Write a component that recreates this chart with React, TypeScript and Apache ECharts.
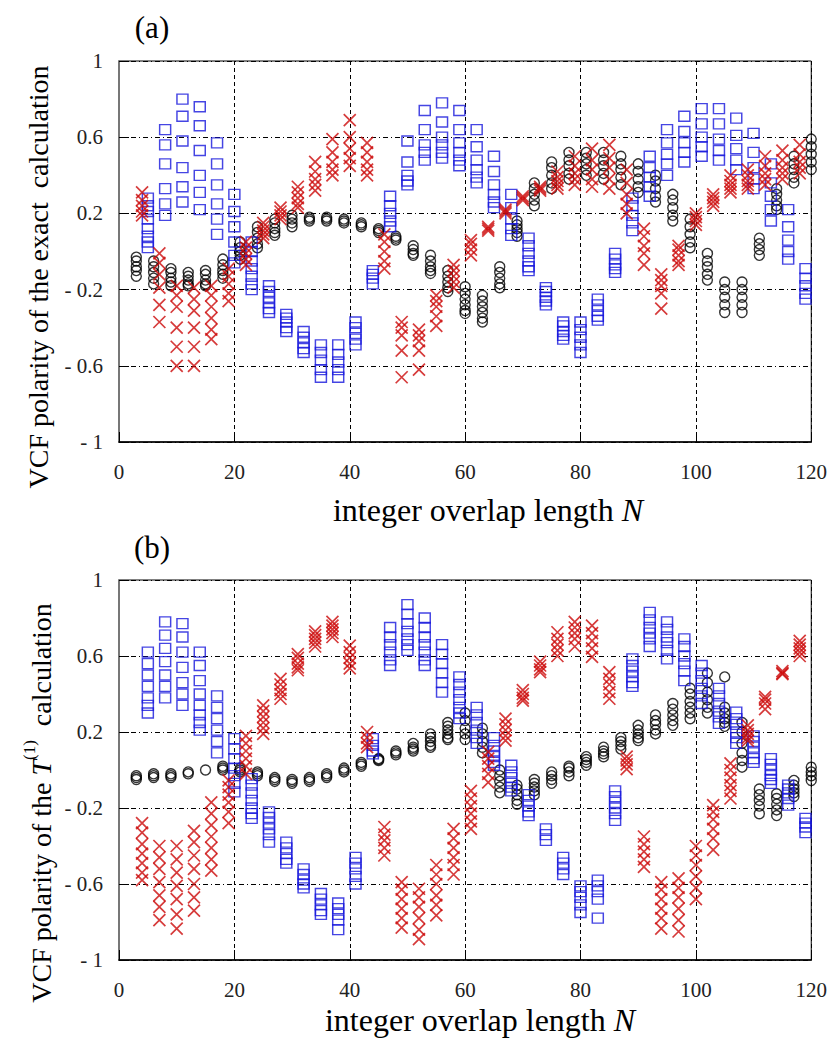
import React, { useEffect, useRef } from "react";
import * as echarts from "echarts";

// N positions of each marker family
const nCircle = [3,6,9,12,15,18,21,24,27,30,33,36,39,42,45,48,51,54,57,60,63,66,69,72,75,78,81,84,87,90,93,96,99,102,105,108,111,114,117,120];
const nCross = [4,7,10,13,16,19,22,25,28,31,34,37,40,43,46,49,52,55,58,61,64,67,70,73,76,79,82,85,88,91,94,97,100,103,106,109,112,115,118];
const nSquare = [5,8,11,14,17,20,23,26,29,32,35,38,41,44,47,50,53,56,59,62,65,68,71,74,77,80,83,86,89,92,95,98,101,104,107,110,113,116,119];

const xTicks = [0, 20, 40, 60, 80, 100, 120];
const yTicks = [-1, -0.6, -0.2, 0.2, 0.6, 1];

// ---- panel (a): exact calculation ----
const circA = [
  [-0.03,-0.05,-0.08,-0.10,-0.13],[-0.05,-0.08,-0.11,-0.14,-0.17],[-0.09,-0.11,-0.14,-0.16,-0.18],[-0.11,-0.13,-0.15,-0.17,-0.18],
  [-0.10,-0.12,-0.15,-0.17,-0.18],[-0.04,-0.07,-0.10,-0.12,-0.14],[0.05,0.02,0.0,-0.02,-0.04],[0.13,0.10,0.07,0.04,0.02],
  [0.17,0.15,0.12,0.10,0.085],[0.19,0.17,0.15,0.13],[0.18,0.17,0.16],[0.18,0.17,0.16],[0.17,0.16,0.15],[0.15,0.14,0.13],
  [0.12,0.11,0.10],[0.08,0.07,0.06],[0.03,0.01,-0.01,-0.02],[-0.02,-0.05,-0.08,-0.10,-0.115],[-0.10,-0.13,-0.16,-0.19,-0.21],
  [-0.185,-0.22,-0.25,-0.28,-0.31,-0.325],[-0.23,-0.26,-0.29,-0.32,-0.35,-0.37],[-0.08,-0.11,-0.14,-0.17,-0.19],
  [0.16,0.14,0.12,0.10,0.08],[0.36,0.33,0.30,0.27,0.24],[0.47,0.44,0.40,0.36,0.33],[0.52,0.48,0.45,0.41,0.38],
  [0.52,0.49,0.46,0.43,0.40],[0.52,0.48,0.45,0.41,0.38],[0.50,0.46,0.43,0.39,0.35],[0.46,0.42,0.38,0.34,0.31],
  [0.40,0.37,0.33,0.29,0.26],[0.30,0.27,0.23,0.19,0.16],[0.17,0.13,0.09,0.05,0.02],[-0.01,-0.05,-0.08,-0.12,-0.15],
  [-0.16,-0.20,-0.24,-0.28,-0.32],[-0.16,-0.20,-0.24,-0.28,-0.32],[0.07,0.04,0.01,-0.02],[0.33,0.30,0.27,0.24,0.22],
  [0.50,0.46,0.43,0.39,0.36],[0.59,0.55,0.51,0.47,0.43],
];
const sqA = [
  [0.28,0.24,0.21,0.17,0.12,0.08,0.05,0.02],[0.64,0.56,0.46,0.33,0.25,0.19],[0.80,0.71,0.58,0.44,0.34,0.26],
  [0.76,0.66,0.53,0.40,0.31,0.22],[0.57,0.46,0.35,0.25,0.17,0.09],[0.30,0.21,0.13,0.05,-0.02,-0.06],
  [0.05,0.0,-0.05,-0.09,-0.13,-0.17,-0.20],[-0.18,-0.21,-0.24,-0.27,-0.30,-0.32],[-0.33,-0.35,-0.37,-0.40,-0.42],
  [-0.42,-0.45,-0.48,-0.51,-0.53],[-0.49,-0.53,-0.57,-0.62,-0.66],[-0.49,-0.54,-0.58,-0.62,-0.66],[-0.37,-0.40,-0.43,-0.46,-0.49],
  [-0.10,-0.12,-0.14,-0.17],[0.29,0.24,0.20,0.16,0.13],[0.58,0.47,0.40,0.37,0.35],[0.74,0.64,0.56,0.52,0.48],
  [0.78,0.68,0.60,0.56,0.52,0.49],[0.74,0.64,0.57,0.52,0.48,0.45],[0.64,0.55,0.48,0.43,0.39,0.36],[0.50,0.42,0.35,0.30,0.26,0.23],
  [0.30,0.23,0.17,0.12,0.085],[0.07,0.03,-0.01,-0.05,-0.08,-0.10],[-0.19,-0.21,-0.24,-0.26,-0.28],[-0.37,-0.39,-0.42,-0.44,-0.46],
  [-0.37,-0.41,-0.45,-0.49,-0.53],[-0.25,-0.28,-0.31,-0.34,-0.36],[-0.01,-0.04,-0.07,-0.09,-0.11],[0.28,0.24,0.19,0.15,0.11],
  [0.50,0.44,0.39,0.34,0.29],[0.64,0.57,0.51,0.46,0.40],[0.71,0.63,0.57,0.52,0.47],[0.75,0.67,0.60,0.55,0.50],
  [0.75,0.67,0.59,0.53,0.48],[0.70,0.61,0.54,0.48,0.43],[0.62,0.52,0.44,0.38,0.33],[0.46,0.36,0.29,0.22,0.16],
  [0.22,0.13,0.06,0.0,-0.04],[-0.09,-0.14,-0.18,-0.22,-0.25],
];
const crossA = [
  [0.31,0.27,0.24,0.21,0.19],[-0.01,-0.06,-0.12,-0.19,-0.28,-0.37],[-0.18,-0.23,-0.29,-0.40,-0.50,-0.60],
  [-0.19,-0.25,-0.31,-0.40,-0.50,-0.60],[-0.18,-0.23,-0.29,-0.35,-0.41,-0.46],[-0.09,-0.13,-0.17,-0.22,-0.26],
  [0.05,0.02,-0.01,-0.04,-0.07],[0.15,0.13,0.11,0.09,0.07],[0.23,0.21,0.19,0.17],[0.34,0.31,0.28,0.25,0.23],
  [0.47,0.42,0.38,0.35,0.32],[0.59,0.52,0.47,0.43,0.40],[0.69,0.60,0.54,0.49,0.45],[0.57,0.52,0.47,0.43,0.40],
  [0.09,0.05,0.0,-0.05,-0.09],[-0.37,-0.40,-0.44,-0.52,-0.66],[-0.41,-0.44,-0.47,-0.52,-0.62],[-0.23,-0.26,-0.29,-0.34,-0.39],
  [-0.07,-0.10,-0.13,-0.16,-0.19],[0.06,0.04,0.01,-0.02],[0.13,0.12,0.11],[0.22,0.21,0.20],[0.29,0.28,0.27],[0.34,0.33,0.32],
  [0.42,0.39,0.37,0.35,0.33],[0.50,0.45,0.41,0.38,0.35],[0.54,0.48,0.43,0.38,0.34],[0.56,0.49,0.44,0.38,0.33],
  [0.43,0.36,0.30,0.25,0.20],[0.12,0.08,0.03,-0.01,-0.07],[-0.12,-0.15,-0.18,-0.22,-0.30],[0.03,0.01,-0.02,-0.05,-0.07],
  [0.20,0.18,0.16,0.14],[0.30,0.28,0.26,0.24],[0.40,0.37,0.35,0.33,0.31],[0.43,0.40,0.37,0.35,0.33],
  [0.50,0.45,0.41,0.38,0.35],[0.53,0.48,0.44,0.41,0.38],[0.56,0.51,0.47,0.44,0.41],
];

// ---- panel (b): T(1) calculation ----
const circB = [
  [-0.03,-0.04,-0.05],[-0.02,-0.03,-0.04],[-0.02,-0.03,-0.04],[-0.01,-0.02],[0.0],[0.02,0.01,0.0],[0.01,0.0,-0.01],
  [-0.01,-0.02,-0.03],[-0.04,-0.05,-0.06],[-0.05,-0.06,-0.07],[-0.04,-0.05,-0.06],[-0.02,-0.03,-0.04],[0.01,0.0,-0.01],
  [0.04,0.03,0.02],[0.06,0.055,0.05],[0.10,0.09,0.08],[0.14,0.12,0.11,0.10],[0.19,0.17,0.15,0.13,0.12],
  [0.25,0.23,0.21,0.19,0.17,0.16],[0.30,0.26,0.22,0.19,0.16],[0.22,0.19,0.15,0.12,0.09],[0.0,-0.03,-0.06,-0.09,-0.12],
  [-0.08,-0.10,-0.13,-0.16,-0.18],[-0.05,-0.07,-0.09,-0.11,-0.13],[-0.01,-0.03,-0.05,-0.07],[0.02,0.01,-0.01,-0.03],
  [0.07,0.055,0.04,0.025],[0.12,0.10,0.085,0.07],[0.17,0.15,0.13,0.11],[0.235,0.21,0.19,0.17,0.155],
  [0.29,0.26,0.24,0.21,0.19],[0.35,0.32,0.29,0.26,0.235],[0.43,0.40,0.36,0.33,0.30,0.27],[0.51,0.46,0.41,0.37,0.33,0.30],
  [0.49,0.33,0.30,0.27,0.25,0.23],[0.25,0.20,0.14,0.09,0.05,0.015],[-0.10,-0.13,-0.16,-0.19,-0.23],
  [-0.125,-0.15,-0.18,-0.21,-0.24],[-0.055,-0.08,-0.10,-0.12,-0.14],[0.015,-0.01,-0.03,-0.055],
];
const sqB = [
  [0.62,0.56,0.50,0.44,0.38,0.34,0.30],[0.78,0.71,0.64,0.57,0.50,0.44,0.38],[0.77,0.70,0.62,0.54,0.46,0.40,0.34],
  [0.62,0.55,0.47,0.40,0.34,0.29,0.25,0.21],[0.39,0.33,0.27,0.21,0.15,0.09],[0.165,0.11,0.06,0.01,-0.03,-0.07,-0.115],
  [-0.045,-0.08,-0.12,-0.16,-0.20,-0.23,-0.255],[-0.22,-0.25,-0.28,-0.31,-0.34,-0.38],[-0.38,-0.41,-0.44,-0.47,-0.49],
  [-0.52,-0.55,-0.58,-0.60,-0.62],[-0.65,-0.68,-0.71,-0.74,-0.76],[-0.70,-0.73,-0.76,-0.79,-0.84],[-0.46,-0.49,-0.52,-0.56,-0.60],
  [0.165,0.13,0.10,0.085],[0.75,0.70,0.66,0.62,0.58,0.55],[0.87,0.82,0.77,0.73,0.69,0.66,0.63],[0.80,0.75,0.70,0.66,0.62,0.58,0.55],
  [0.66,0.61,0.56,0.51,0.46,0.41],[0.49,0.45,0.41,0.37,0.33,0.30,0.27],[0.33,0.29,0.25,0.21,0.17,0.14],
  [0.17,0.13,0.10,0.07,0.04,0.025],[0.025,-0.01,-0.04,-0.07,-0.09,-0.11],[-0.13,-0.16,-0.19,-0.22,-0.24],[-0.31,-0.34,-0.37],
  [-0.46,-0.49,-0.52,-0.55],[-0.61,-0.64,-0.67,-0.71,-0.75],[-0.58,-0.61,-0.64,-0.68,-0.78],[-0.11,-0.14,-0.17,-0.20,-0.23,-0.265],
  [0.585,0.55,0.52,0.49,0.46,0.44],[0.83,0.79,0.75,0.72,0.69,0.65],[0.78,0.74,0.70,0.67,0.63,0.585],[0.69,0.65,0.60,0.56,0.52,0.47],
  [0.55,0.51,0.47,0.43,0.39,0.35],[0.43,0.39,0.35,0.31,0.28,0.245],[0.305,0.27,0.24,0.20,0.17,0.14],[0.18,0.15,0.12,0.09,0.06,0.04],
  [0.06,0.03,0.0,-0.03,-0.05,-0.07],[-0.08,-0.10,-0.12,-0.15,-0.185],[-0.255,-0.28,-0.30,-0.33],
];
const crossB = [
  [-0.28,-0.33,-0.39,-0.44,-0.49,-0.54,-0.58],[-0.40,-0.46,-0.52,-0.59,-0.66,-0.72,-0.79],[-0.40,-0.47,-0.54,-0.61,-0.68,-0.76,-0.835],
  [-0.32,-0.38,-0.45,-0.52,-0.60,-0.67,-0.74],[-0.17,-0.23,-0.29,-0.35,-0.41,-0.47,-0.53],[-0.055,-0.09,-0.13,-0.17,-0.22,-0.28],
  [0.18,0.14,0.10,0.06,0.02,-0.02],[0.34,0.31,0.28,0.25,0.22,0.19],[0.48,0.45,0.42,0.40,0.375],[0.61,0.59,0.56,0.54,0.525],
  [0.73,0.71,0.69,0.67,0.65],[0.78,0.76,0.74,0.72,0.70],[0.655,0.62,0.59,0.56,0.535],[0.20,0.17,0.14,0.12],
  [-0.30,-0.34,-0.37,-0.41,-0.45],[-0.59,-0.63,-0.68,-0.73,-0.78,-0.83],[-0.625,-0.67,-0.72,-0.78,-0.84,-0.89],
  [-0.50,-0.55,-0.60,-0.66,-0.71,-0.765],[-0.31,-0.36,-0.41,-0.46,-0.50,-0.55],[-0.11,-0.15,-0.19,-0.23,-0.27,-0.31],
  [0.095,0.06,0.02,-0.02,-0.065],[0.27,0.24,0.21,0.18,0.155],[0.42,0.40,0.38,0.365],[0.57,0.55,0.53,0.515],
  [0.725,0.69,0.66,0.63,0.60],[0.78,0.75,0.72,0.69,0.65],[0.76,0.72,0.68,0.64,0.595],[0.515,0.48,0.45,0.41,0.375],
  [0.07,0.05,0.03,0.005],[-0.35,-0.39,-0.43,-0.47,-0.51],[-0.59,-0.63,-0.68,-0.73,-0.78,-0.835],[-0.57,-0.62,-0.67,-0.73,-0.79,-0.85],
  [-0.40,-0.45,-0.50,-0.56,-0.62,-0.68],[-0.185,-0.22,-0.26,-0.31,-0.36,-0.42],[0.035,0.0,-0.04,-0.08,-0.11,-0.15],
  [0.235,0.21,0.19,0.17,0.155],[0.385,0.37,0.35,0.32],[0.52,0.51,0.505],[0.68,0.66,0.64,0.62,0.60],
];

const SERIF = "Liberation Serif, DejaVu Serif, serif";
const BLUE = "#1616dc";
const RED = "#cc0a0a";

function toPoints(ns: number[], cols: number[][]) {
  const out: number[][] = [];
  ns.forEach((n, i) => (cols[i] || []).forEach((v) => out.push([n, v])));
  return out;
}

function fmtY(v: number) {
  const r = Math.round(v * 10) / 10;
  const s = r < 0 ? "- " + String(Math.abs(r)) : String(r);
  return "{s|" + s + "}";
}
function fmtX(v: number) {
  return "{s|" + String(Math.round(v)) + "}";
}

const labelRich = { s: { fontFamily: SERIF, fontSize: 21, color: "#222" } };

function axesFor(idx: number) {
  const x = {
    type: "value", gridIndex: idx, min: 0, max: 120, interval: 20,
    axisLine: { show: true, onZero: false, lineStyle: { color: "#000", width: 1.5 } },
    axisTick: { show: true, inside: true, length: 10, lineStyle: { color: "#000" } },
    axisLabel: { margin: 19, fontSize: 21, fontFamily: SERIF, color: "#222", customValues: xTicks, formatter: fmtX, rich: labelRich },
    splitLine: { show: true, lineStyle: { type: [4, 3], color: "#000", width: 1 } },
  };
  const y = {
    type: "value", gridIndex: idx, min: -1, max: 1, interval: 0.4,
    axisLine: { show: true, onZero: false, lineStyle: { color: "#777", width: 2 } },
    axisTick: { show: true, inside: true, length: 10, lineStyle: { color: "#000" }, customValues: yTicks },
    axisLabel: { margin: 16, fontSize: 21, fontFamily: SERIF, color: "#222", customValues: yTicks, formatter: fmtY, rich: labelRich },
    splitLine: { show: true, lineStyle: { type: [5, 3, 1, 3], color: "#000", width: 1 } },
  };
  return { x, y };
}

function seriesFor(idx: number, circ: number[][], sq: number[][], cross: number[][]) {
  return [
    {
      type: "scatter", xAxisIndex: idx, yAxisIndex: idx, silent: true,
      symbol: "circle", symbolSize: 10,
      itemStyle: { color: "rgba(0,0,0,0)", borderColor: "#000", borderWidth: 1.4 },
      data: toPoints(nCircle, circ),
    },
    {
      type: "scatter", xAxisIndex: idx, yAxisIndex: idx, silent: true,
      symbol: "rect", symbolSize: [11, 10],
      itemStyle: { color: "rgba(0,0,0,0)", borderColor: BLUE, borderWidth: 1.4 },
      data: toPoints(nSquare, sq),
    },
    {
      type: "scatter", xAxisIndex: idx, yAxisIndex: idx, silent: true,
      symbol: "path://M0,0L10,10M10,0L0,10", symbolSize: 12,
      itemStyle: { color: "rgba(0,0,0,0)", borderColor: RED, borderWidth: 1.7 },
      data: toPoints(nCross, cross),
    },
  ];
}

export default function App() {
  const ref = useRef<HTMLDivElement>(null);
  useEffect(() => {
    document.body.style.margin = "0";
    if (!ref.current) return;
    const chart = echarts.init(ref.current, undefined, { renderer: "svg" });
    const a = axesFor(0);
    const b = axesFor(1);
    const xTitleRich = {
      n: { fontFamily: SERIF, fontSize: 32, color: "#000" },
      i: { fontFamily: SERIF, fontSize: 32, color: "#000", fontStyle: "italic" },
    };
    const yRich = {
      n: { fontFamily: SERIF, fontSize: 28, color: "#000", verticalAlign: "bottom", lineHeight: 34 },
      i: { fontFamily: SERIF, fontSize: 28, color: "#000", fontStyle: "italic", verticalAlign: "bottom", lineHeight: 34 },
      s: { fontFamily: SERIF, fontSize: 17, color: "#000", verticalAlign: "top", lineHeight: 34 },
    };
    chart.setOption({
      animation: false,
      backgroundColor: "#fff",
      grid: [
        { left: 119, top: 61, width: 694, height: 381, show: true, borderColor: "#000", borderWidth: 1, backgroundColor: "transparent" },
        { left: 119, top: 580, width: 694, height: 380, show: true, borderColor: "#000", borderWidth: 1, backgroundColor: "transparent" },
      ],
      xAxis: [a.x, b.x],
      yAxis: [a.y, b.y],
      series: [...seriesFor(0, circA, sqA, crossA), ...seriesFor(1, circB, sqB, crossB)],
      graphic: [
        { type: "text", x: 152, y: 27, style: { text: "{n|(a)}", rich: { n: { fontFamily: SERIF, fontSize: 31, color: "#000" } }, textAlign: "center", textVerticalAlign: "middle" } },
        { type: "text", x: 152, y: 547, style: { text: "{n|(b)}", rich: { n: { fontFamily: SERIF, fontSize: 31, color: "#000" } }, textAlign: "center", textVerticalAlign: "middle" } },
        {
          type: "text", x: 35, y: 277, rotation: Math.PI / 2,
          style: { text: "{n|VCF polarity of the exact  calculation}", rich: yRich, textAlign: "center", textVerticalAlign: "middle" },
        },
        {
          type: "text", x: 38, y: 803, rotation: Math.PI / 2,
          style: { text: "{n|VCF polarity of the }{i|T}{s|(1)}{n|  calculation}", rich: yRich, textAlign: "center", textVerticalAlign: "middle" },
        },
        {
          type: "text", x: 488, y: 510,
          style: { text: "{n|integer overlap length }{i|N}", textAlign: "center", textVerticalAlign: "middle", rich: xTitleRich },
        },
        {
          type: "text", x: 480, y: 1020,
          style: { text: "{n|integer overlap length }{i|N}", textAlign: "center", textVerticalAlign: "middle", rich: xTitleRich },
        },
      ],
    });
    return () => chart.dispose();
  }, []);
  return <div ref={ref} style={{ width: 830, height: 1048 }} />;
}
